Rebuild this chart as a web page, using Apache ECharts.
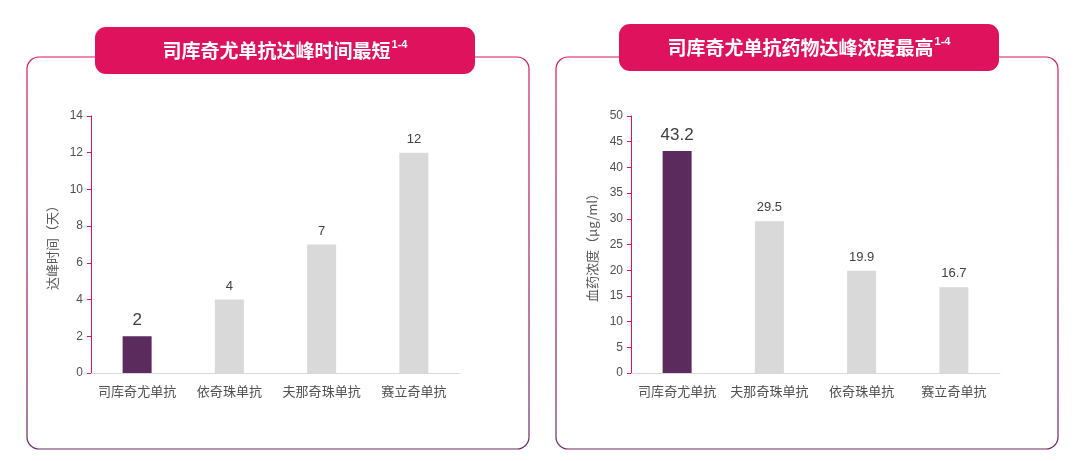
<!DOCTYPE html>
<html>
<head>
<meta charset="utf-8">
<script src="https://cdn.jsdelivr.net/npm/echarts@6/dist/echarts.min.js"></script>
<style>
html,body{margin:0;padding:0;background:#fff;}
#main{width:1080px;height:461px;}
</style>
</head>
<body>
<div id="main"></div>
<script>
// 左图：达峰时间
var catsA = ['司库奇尤单抗', '依奇珠单抗', '夫那奇珠单抗', '赛立奇单抗'];
var valsA = [2, 4, 7, 12];
// 右图：血药浓度
var catsB = ['司库奇尤单抗', '夫那奇珠单抗', '依奇珠单抗', '赛立奇单抗'];
var valsB = [43.2, 29.5, 19.9, 16.7];

var titleA = '司库奇尤单抗达峰时间最短';
var titleB = '司库奇尤单抗药物达峰浓度最高';
var nameA = '达峰时间（天）';
var nameB = '血药浓度（μg/ml）';

var chart = echarts.init(document.getElementById('main'));

var purple = '#5b2b5e';
var grey = '#d9d9d9';
var pink = '#df125e';

function barData(vals) {
	return vals.map(function(v, i) {
		return {
			value: v,
			itemStyle: { color: i === 0 ? purple : grey },
			label: i === 0 ? { fontSize: 17 } : {}
		};
	});
}

function panel(x) {
	return {
		type: 'rect',
		shape: { x: x, y: 57, width: 502, height: 392, r: 12 },
		style: {
			fill: '#fff',
			lineWidth: 1.2,
			stroke: new echarts.graphic.LinearGradient(0, 0, 0, 1, [
				{ offset: 0, color: '#d81760' },
				{ offset: 1, color: '#6b2a66' }
			])
		},
		z: 0
	};
}

function pill(x, y, text) {
	return [{
		type: 'rect',
		shape: { x: x, y: y, width: 380, height: 47, r: 11 },
		style: { fill: pink },
		z: 1
	}, {
		type: 'text',
		x: x + 190,
		y: y + 24,
		style: {
			text: '{t|' + text + '}{s|1-4}',
			align: 'center',
			verticalAlign: 'middle',
			rich: {
				t: { fill: '#fff', fontSize: 19, fontWeight: 'bold', fontFamily: 'Noto Sans CJK SC' },
				s: { fill: '#fff', fontSize: 11, fontWeight: 'bold', fontFamily: 'Liberation Sans', verticalAlign: 'top', padding: [0, 0, 12, 1] }
			}
		},
		z: 2
	}];
}

function yAxis(idx, max, interval, name) {
	return {
		gridIndex: idx,
		type: 'value',
		min: 0,
		max: max,
		interval: interval,
		name: name,
		nameLocation: 'middle',
		nameRotate: 90,
		nameGap: 32,
		nameTextStyle: { color: '#595959', fontSize: 13, fontFamily: 'Noto Sans CJK SC' },
		axisLine: { show: true, lineStyle: { color: pink, width: 1 } },
		axisTick: { show: true, length: 4, lineStyle: { color: pink } },
		axisLabel: { color: '#505050', fontSize: 12, margin: 8, fontFamily: 'Liberation Sans' },
		splitLine: { show: false }
	};
}

function xAxis(idx, cats) {
	return {
		gridIndex: idx,
		type: 'category',
		data: cats,
		axisLine: { show: true, lineStyle: { color: '#d9d9d9' } },
		axisTick: { show: false },
		axisLabel: { interval: 0, color: '#505050', fontSize: 13, margin: 12, fontFamily: 'Noto Sans CJK SC' }
	};
}

function series(idx, vals) {
	return {
		type: 'bar',
		xAxisIndex: idx,
		yAxisIndex: idx,
		barWidth: 29,
		data: barData(vals),
		label: {
			show: true,
			position: 'top',
			distance: 7,
			color: '#404040',
			fontSize: 13,
			fontFamily: 'Liberation Sans'
		}
	};
}

option = {
	backgroundColor: '#fff',
	animation: false,
	graphic: [panel(27), panel(556)].concat(pill(95, 27, titleA), pill(619, 24, titleB)),
	grid: [
		{ left: 91, top: 116, width: 369, height: 257 },
		{ left: 631, top: 116, width: 369, height: 257 }
	],
	xAxis: [xAxis(0, catsA), xAxis(1, catsB)],
	yAxis: [yAxis(0, 14, 2, nameA), yAxis(1, 50, 5, nameB)],
	series: [series(0, valsA), series(1, valsB)]
};

chart.setOption(option);
</script>
</body>
</html>
